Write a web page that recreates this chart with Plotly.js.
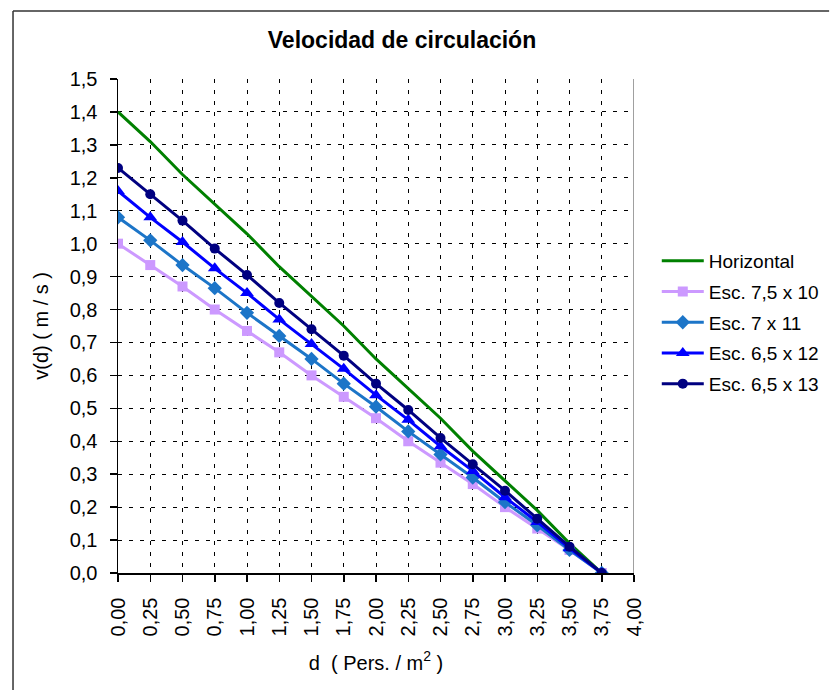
<!DOCTYPE html>
<html>
<head>
<meta charset="utf-8">
<script src="https://cdn.plot.ly/plotly-3.0.1.min.js"></script>
<style>html,body{margin:0;padding:0;background:#fff;}#chart{width:836px;height:690px;}</style>
</head>
<body>
<div id="chart"></div>
<script>
// Density values d (Pers./m2)
var density = [0.00, 0.25, 0.50, 0.75, 1.00, 1.25, 1.50, 1.75, 2.00, 2.25, 2.50, 2.75, 3.00, 3.25, 3.50, 3.75];
// Speeds v(d) (m/s) per series
var horizontal = [1.40, 1.31, 1.21, 1.12, 1.03, 0.93, 0.84, 0.75, 0.65, 0.56, 0.47, 0.37, 0.28, 0.19, 0.09, 0.00];
var esc75x10  = [1.00, 0.935, 0.87, 0.80, 0.735, 0.67, 0.60, 0.535, 0.47, 0.40, 0.335, 0.27, 0.20, 0.135, 0.07, 0.00];
var esc7x11   = [1.08, 1.01, 0.935, 0.865, 0.79, 0.72, 0.65, 0.575, 0.505, 0.43, 0.36, 0.29, 0.215, 0.145, 0.07, 0.00];
var esc65x12  = [1.16, 1.08, 1.005, 0.925, 0.85, 0.77, 0.695, 0.62, 0.54, 0.465, 0.385, 0.31, 0.23, 0.155, 0.075, 0.00];
var esc65x13  = [1.23, 1.15, 1.07, 0.985, 0.905, 0.82, 0.74, 0.66, 0.575, 0.495, 0.41, 0.33, 0.25, 0.165, 0.08, 0.00];
var seriesNames = ["Horizontal", "Esc. 7,5 x 10", "Esc. 7 x 11", "Esc. 6,5 x 12", "Esc. 6,5 x 13"];
var yTitle = 'v(d) ( m / s )';
var xTitle = 'd  ( Pers. / m<sup>2</sup> )';

var FONT = "Liberation Sans, Arial, sans-serif";
var W = 836, H = 690, L = 118, R = 197, T = 79, B = 117;
var pw = W - L - R, ph = H - T - B;
function px(x){ return (x - L) / pw; }
function py(y){ return (H - B - y) / ph; }

function tr(y, name, color, symbol, size, showMarker){
  var t = {x: density, y: y, name: name, type: 'scatter',
    mode: showMarker ? 'lines+markers' : 'lines',
    line: {color: color, width: 3},
    legendgroup: name};
  if (showMarker) t.marker = {symbol: symbol, size: size, color: color};
  return t;
}

var data = [
  tr(horizontal, seriesNames[0], '#008000', null, 0, false),
  tr(esc75x10, seriesNames[1], '#CC99FF', 'square', 10, true),
  tr(esc7x11, seriesNames[2], '#1C75C8', 'diamond', 11, true),
  tr(esc65x12, seriesNames[3], '#0000FF', 'triangle-up', 12, true),
  tr(esc65x13, seriesNames[4], '#000080', 'circle', 10, true)
];

var layout = {
  width: W, height: H,
  margin: {l: L, r: R, t: T, b: B, pad: 0},
  paper_bgcolor: '#fff', plot_bgcolor: '#fff',
  separators: ',.',
  font: {family: FONT, size: 20, color: '#000'},
  title: {text: '<b>Velocidad de circulación</b>', font: {family: FONT, size: 23, color: '#000'},
          xref: 'container', x: 402 / W, xanchor: 'center', yref: 'container', y: 1 - 40 / H, yanchor: 'middle'},
  xaxis: {
    range: [0, 4], dtick: 0.25, tick0: 0, tickformat: '.2f', tickangle: -90,
    showline: true, linecolor: '#000', linewidth: 1.5, zeroline: false,
    ticks: 'outside', ticklen: 7, tickcolor: '#000', tickwidth: 1.5,
    showgrid: true, gridcolor: '#000', gridwidth: 1, griddash: '4px,7px',
    ticklabelstandoff: 8,
    tickfont: {family: FONT, size: 20, color: '#000'},
    title: {text: xTitle, font: {family: FONT, size: 20, color: '#000'}, standoff: 20},
    automargin: false
  },
  yaxis: {
    range: [0, 1.5], dtick: 0.1, tick0: 0, tickformat: '.1f',
    showline: true, linecolor: '#000', linewidth: 1.5, zeroline: false,
    ticks: 'outside', ticklen: 7, tickcolor: '#000', tickwidth: 1.5,
    showgrid: true, gridcolor: '#000', gridwidth: 1, griddash: '4px,7px',
    ticklabelstandoff: 8,
    tickfont: {family: FONT, size: 20, color: '#000'},
    automargin: false
  },
  annotations: [
    {text: yTitle, xref: 'paper', yref: 'paper', x: px(40), y: 0.5, xanchor: 'center', yanchor: 'middle',
     textangle: -90, showarrow: false, font: {family: FONT, size: 20, color: '#000'}}
  ],
  showlegend: true,
  legend: {
    x: px(662), xanchor: 'left', y: py(242), yanchor: 'top',
    font: {family: FONT, size: 19, color: '#000'},
    bgcolor: 'rgba(0,0,0,0)', borderwidth: 0,
    traceorder: 'grouped', tracegroupgap: 3, itemwidth: 42
  },
  shapes: [
    {type: 'line', xref: 'x', yref: 'y', x0: 4, x1: 4, y0: 0, y1: 1.5, line: {color: '#808080', width: 1.5}},
    {type: 'line', xref: 'paper', yref: 'paper', x0: px(12), x1: px(836), y0: py(11), y1: py(11), line: {color: '#333', width: 1.5}},
    {type: 'line', xref: 'paper', yref: 'paper', x0: px(12), x1: px(12), y0: py(11), y1: py(692), line: {color: '#333', width: 1.5}}
  ]
};

Plotly.newPlot('chart', data, layout, {displayModeBar: false, staticPlot: true});
</script>
</body>
</html>
